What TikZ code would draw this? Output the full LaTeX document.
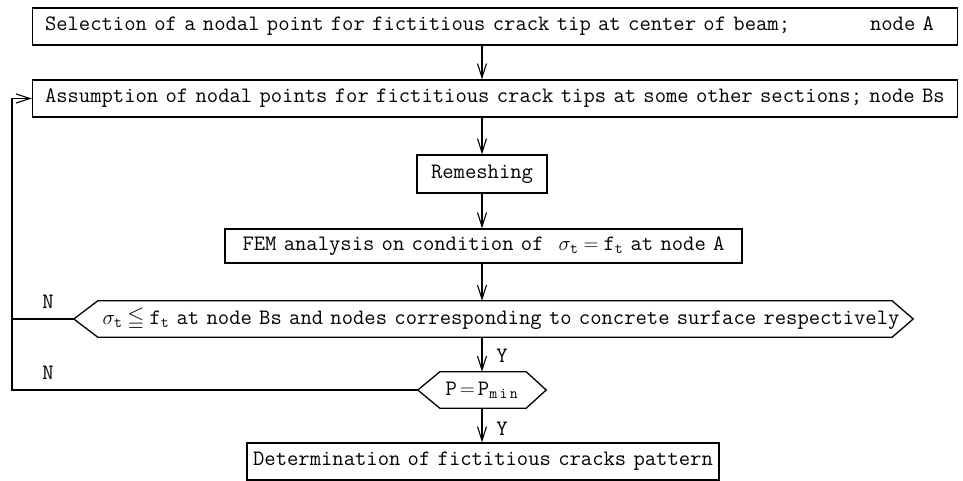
\documentclass[tikz,border=0pt]{standalone}
\usepackage{amssymb}
\usepackage{fontspec}
\usetikzlibrary{arrows.meta}
\frenchspacing
% typewriter face with a narrow, fixed word space
\newcommand\flowfont{\fontsize{22}{26}\selectfont\ttfamily
  \fontdimen2\font=7.3pt \fontdimen3\font=0pt \fontdimen4\font=0pt\relax}
\begin{document}
\begin{tikzpicture}[x=1pt,y=-1pt,
  txt/.style={font=\flowfont},
  stepbox/.style={txt,draw,line width=1.3pt,inner sep=0pt,minimum height=37pt},
  widebox/.style={stepbox,minimum width=925pt,text width=900pt,align=left},
  hexnode/.style={txt,inner sep=0pt,minimum height=36pt},
  hexline/.style={line width=1.3pt,line join=miter},
  arr/.style={line width=1.2pt,-{Straight Barb[length=14pt,width=9pt,line width=1.1pt]}},
  flow/.style={line width=1.3pt}]
\useasboundingbox (0,0) rectangle (963,481);
\fill[white] (0,0) rectangle (963,481);

% axis of the main flow and the return line
\coordinate (ax) at (482,0);
\coordinate (lx) at (12,0);

% process boxes
\node[widebox] (b1) at (495,26.5)
  {Selection of a nodal point for fictitious crack tip at center of beam;\hskip 0pt plus 1fill node A\rule{11pt}{0pt}};
\node[widebox] (b2) at (495,98.5)
  {Assumption of nodal points for fictitious crack tips at some other sections; node Bs};
\node[stepbox,minimum width=130pt,minimum height=38pt] (rem) at (482,174) {Remeshing};
\node[stepbox,minimum width=517pt,minimum height=34pt] (fem) at (483.5,246)
  {FEM analysis on condition of\hspace*{15pt}$\sigma_{\mathtt{t}}\hspace{5pt}{=}\hspace{5pt}\mathtt{f}_{\mathtt{t}}$ at node A};

% decision: stress check
\node[hexnode,minimum width=839pt] (dec) at (493.5,319)
  {\hspace*{15pt}$\sigma_{\mathtt{t}}\hspace{5pt}{\leqq}\hspace{5pt}\mathtt{f}_{\mathtt{t}}$ at node Bs and nodes corresponding to concrete surface respectively};
\draw[hexline] (dec.west) -- ([xshift=24pt]dec.north west) -- ([xshift=-21pt]dec.north east)
  -- (dec.east) -- ([xshift=-21pt]dec.south east) -- ([xshift=24pt]dec.south west) -- cycle;

% decision: minimum load
\node[hexnode,minimum width=128pt] (pm) at (482,390)
  {P\hspace{3pt}$=$\hspace{3pt}P$_{\mathtt{m\,i\,n}}$};
\draw[hexline] (pm.west) -- ([xshift=22pt]pm.north west) -- ([xshift=-20pt]pm.north east)
  -- (pm.east) -- ([xshift=-20pt]pm.south east) -- ([xshift=22pt]pm.south west) -- cycle;

% final box
\node[stepbox,minimum width=472pt] (det) at (483,461.5) {Determination of fictitious cracks pattern};

% main flow
\draw[arr] (b1.south -| ax) -- (b2.north -| ax);
\draw[arr] (b2.south -| ax) -- (rem.north -| ax);
\draw[arr] (rem.south -| ax) -- (fem.north -| ax);
\draw[arr] (fem.south -| ax) -- (dec.north -| ax);
\draw[arr] (dec.south -| ax) -- (pm.north);
\draw[arr] (pm.south) -- (det.north -| ax);

% return paths
\draw[flow] (dec.west) -- (dec.west -| lx);
\draw[arr] (pm.west) -- (pm.west -| lx) |- (b2.west);

% branch labels
\node[txt] (y1) at (502,356) {Y};
\node[txt] (y2) at (502,429) {Y};
\node[txt] (n1) at (48,302) {N};
\node[txt] (n2) at (48,373) {N};
\end{tikzpicture}
\end{document}
